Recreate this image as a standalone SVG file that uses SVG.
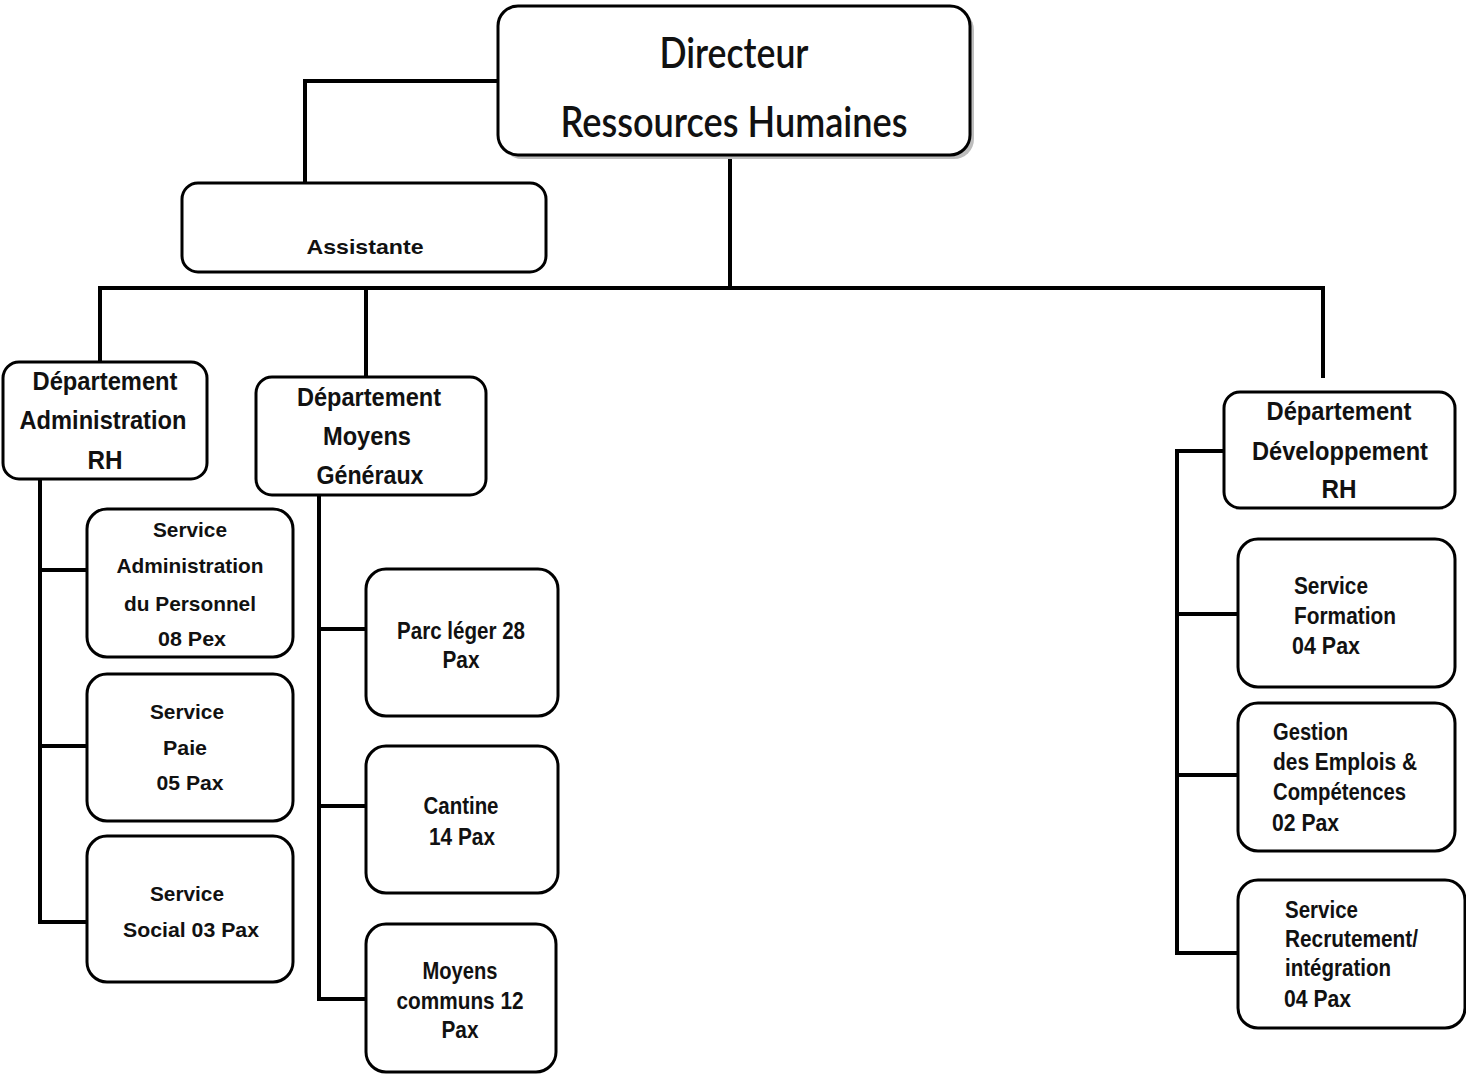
<svg xmlns="http://www.w3.org/2000/svg" width="1466" height="1075" viewBox="0 0 1466 1075">
<style>
.box{fill:#fff;stroke:#000;stroke-width:3}
.sh{fill:#bdbdbd}
.c{fill:none;stroke:#000;stroke-width:4}
text{font-family:"Liberation Sans",Arial,sans-serif;font-weight:bold;fill:#111}
.t{font-size:25px;text-anchor:middle}
.s{font-size:21px;text-anchor:middle}
.m{font-size:24px;text-anchor:middle}
.l{font-size:24px}
.big{font-family:Lato,"Open Sans",sans-serif;font-weight:600;font-size:42px;text-anchor:middle}
</style>
<rect width="1466" height="1075" fill="#fff"/>
<g id="connectors">
<path class="c" d="M498 81H305V183"/>
<path class="c" d="M730 155V288"/>
<path class="c" d="M100 372V288H1323V378"/>
<path class="c" d="M366 288V377"/>
<path class="c" d="M40 479V922H87M40 570H87M40 746H87"/>
<path class="c" d="M319 495V999H366M319 629H366M319 806H366"/>
<path class="c" d="M1224 451H1177V953H1238M1177 614H1238M1177 775H1238"/>
</g>
<g id="directeur">
<rect class="sh" x="502" y="10" width="472" height="149" rx="20"/>
<rect class="box" x="498" y="6" width="472" height="149" rx="20"/>
<text class="big" x="734" y="68" textLength="149" lengthAdjust="spacingAndGlyphs">Directeur</text>
<text class="big" x="734" y="137" textLength="347" lengthAdjust="spacingAndGlyphs">Ressources Humaines</text>
</g>
<g id="assistante">
<rect class="box" x="182" y="183" width="364" height="89" rx="16"/>
<text class="s" x="365" y="254" font-size="22" textLength="117" lengthAdjust="spacingAndGlyphs">Assistante</text>
</g>
<g id="dept-admin">
<rect class="box" x="3" y="362" width="204" height="117" rx="16"/>
<text class="t" x="105" y="390" textLength="145" lengthAdjust="spacingAndGlyphs">Département</text>
<text class="t" x="103" y="429" textLength="167" lengthAdjust="spacingAndGlyphs">Administration</text>
<text class="t" x="105" y="469" textLength="35" lengthAdjust="spacingAndGlyphs">RH</text>
</g>
<g id="dept-moyens">
<rect class="box" x="256" y="377" width="230" height="118" rx="16"/>
<text class="t" x="369" y="406" textLength="144" lengthAdjust="spacingAndGlyphs">Département</text>
<text class="t" x="367" y="445" textLength="88" lengthAdjust="spacingAndGlyphs">Moyens</text>
<text class="t" x="370" y="484" textLength="107" lengthAdjust="spacingAndGlyphs">Généraux</text>
</g>
<g id="dept-dev">
<rect class="box" x="1224" y="392" width="231" height="116" rx="16"/>
<text class="t" x="1339" y="420" textLength="145" lengthAdjust="spacingAndGlyphs">Département</text>
<text class="t" x="1340" y="460" textLength="176" lengthAdjust="spacingAndGlyphs">Développement</text>
<text class="t" x="1339" y="498" textLength="35" lengthAdjust="spacingAndGlyphs">RH</text>
</g>
<g id="svc-admin">
<rect class="box" x="87" y="509" width="206" height="148" rx="20"/>
<text class="s" x="190" y="537" textLength="74" lengthAdjust="spacingAndGlyphs">Service</text>
<text class="s" x="190" y="573" textLength="147" lengthAdjust="spacingAndGlyphs">Administration</text>
<text class="s" x="190" y="611" textLength="132" lengthAdjust="spacingAndGlyphs">du Personnel</text>
<text class="s" x="192" y="646" textLength="68" lengthAdjust="spacingAndGlyphs">08 Pex</text>
</g>
<g id="svc-paie">
<rect class="box" x="87" y="674" width="206" height="147" rx="20"/>
<text class="s" x="187" y="719" textLength="74" lengthAdjust="spacingAndGlyphs">Service</text>
<text class="s" x="185" y="755" textLength="44" lengthAdjust="spacingAndGlyphs">Paie</text>
<text class="s" x="190" y="790" textLength="67" lengthAdjust="spacingAndGlyphs">05 Pax</text>
</g>
<g id="svc-social">
<rect class="box" x="87" y="836" width="206" height="146" rx="20"/>
<text class="s" x="187" y="901" textLength="74" lengthAdjust="spacingAndGlyphs">Service</text>
<text class="s" x="191" y="937" textLength="136" lengthAdjust="spacingAndGlyphs">Social 03 Pax</text>
</g>
<g id="parc">
<rect class="box" x="366" y="569" width="192" height="147" rx="20"/>
<text class="m" x="461" y="639" textLength="128" lengthAdjust="spacingAndGlyphs">Parc léger 28</text>
<text class="m" x="461" y="668" textLength="37" lengthAdjust="spacingAndGlyphs">Pax</text>
</g>
<g id="cantine">
<rect class="box" x="366" y="746" width="192" height="147" rx="20"/>
<text class="m" x="461" y="814" textLength="75" lengthAdjust="spacingAndGlyphs">Cantine</text>
<text class="m" x="462" y="845" textLength="66" lengthAdjust="spacingAndGlyphs">14 Pax</text>
</g>
<g id="moyens-communs">
<rect class="box" x="366" y="924" width="190" height="148" rx="20"/>
<text class="m" x="460" y="979" textLength="75" lengthAdjust="spacingAndGlyphs">Moyens</text>
<text class="m" x="460" y="1009" textLength="127" lengthAdjust="spacingAndGlyphs">communs 12</text>
<text class="m" x="460" y="1038" textLength="37" lengthAdjust="spacingAndGlyphs">Pax</text>
</g>
<g id="svc-formation">
<rect class="box" x="1238" y="539" width="217" height="148" rx="20"/>
<text class="l" x="1294" y="594" textLength="74" lengthAdjust="spacingAndGlyphs">Service</text>
<text class="l" x="1294" y="624" textLength="102" lengthAdjust="spacingAndGlyphs">Formation</text>
<text class="l" x="1292" y="654" textLength="68" lengthAdjust="spacingAndGlyphs">04 Pax</text>
</g>
<g id="gestion">
<rect class="box" x="1238" y="703" width="217" height="148" rx="20"/>
<text class="l" x="1273" y="740" textLength="75" lengthAdjust="spacingAndGlyphs">Gestion</text>
<text class="l" x="1273" y="770" textLength="144" lengthAdjust="spacingAndGlyphs">des Emplois &amp;</text>
<text class="l" x="1273" y="800" textLength="133" lengthAdjust="spacingAndGlyphs">Compétences</text>
<text class="l" x="1272" y="831" textLength="67" lengthAdjust="spacingAndGlyphs">02 Pax</text>
</g>
<g id="svc-recrutement">
<rect class="box" x="1238" y="880" width="227" height="148" rx="20"/>
<text class="l" x="1285" y="918" textLength="73" lengthAdjust="spacingAndGlyphs">Service</text>
<text class="l" x="1285" y="947" textLength="133" lengthAdjust="spacingAndGlyphs">Recrutement/</text>
<text class="l" x="1285" y="976" textLength="106" lengthAdjust="spacingAndGlyphs">intégration</text>
<text class="l" x="1284" y="1007" textLength="67" lengthAdjust="spacingAndGlyphs">04 Pax</text>
</g>
</svg>
